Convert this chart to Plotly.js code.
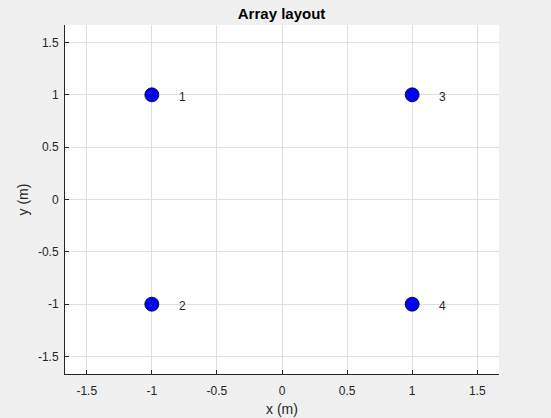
<!DOCTYPE html>
<html>
<head>
<meta charset="utf-8">
<script src="https://cdn.plot.ly/plotly-3.0.1.min.js"></script>
<style>html,body{margin:0;padding:0;background:#f0f0f0;}#chart{width:551px;height:418px;}</style>
</head>
<body>
<div id="chart"></div>
<script>
const elemX = [-1, -1, 1, 1];
const elemY = [1, -1, 1, -1];
const elemLabels = ['1', '2', '3', '4'];
const tickVals = [-1.5, -1, -0.5, 0, 0.5, 1, 1.5];
const tickText = ['-1.5', '-1', '-0.5', '0', '0.5', '1', '1.5'];

const font = 'Liberation Sans, Arial, sans-serif';
const trace = {
  x: elemX, y: elemY, mode: 'markers', type: 'scatter',
  marker: {size: 14, color: '#0000ff', line: {color: '#000000', width: 0.8}},
  hoverinfo: 'skip', showlegend: false
};
const annotations = elemLabels.map((t, i) => ({
  x: elemX[i], y: elemY[i], xref: 'x', yref: 'y', text: t, showarrow: false,
  xanchor: 'left', yanchor: 'middle', xshift: 25, yshift: -2,
  font: {family: font, size: 12, color: '#262626'}
}));
const axisCommon = {
  range: [-1.667, 1.667], tickvals: tickVals, ticktext: tickText,
  ticks: 'inside', ticklen: 4, tickcolor: '#262626', tickwidth: 1,
  showline: true, linecolor: '#262626', linewidth: 1, mirror: false,
  showgrid: true, gridcolor: '#dfdfdf', gridwidth: 1, zeroline: false,
  tickfont: {family: font, size: 12, color: '#262626'}, fixedrange: true
};
const layout = {
  width: 551, height: 418,
  paper_bgcolor: '#f0f0f0', plot_bgcolor: '#ffffff',
  margin: {l: 65, r: 52, t: 25, b: 44},
  title: {text: '<b>Array layout</b>', x: 0.511, xanchor: 'center', y: 0.968, yanchor: 'middle',
          font: {family: font, size: 15, color: '#000000'}},
  xaxis: Object.assign({}, axisCommon, {ticklabelstandoff: 6,
    title: {text: 'x (m)', standoff: 6, font: {family: font, size: 14, color: '#262626'}}}),
  yaxis: Object.assign({}, axisCommon, {ticklabelstandoff: 3,
    title: {text: 'y (m)', standoff: 6, font: {family: font, size: 14, color: '#262626'}}}),
  annotations: annotations
};
Plotly.newPlot('chart', [trace], layout, {displayModeBar: false, staticPlot: true});
</script>
</body>
</html>
